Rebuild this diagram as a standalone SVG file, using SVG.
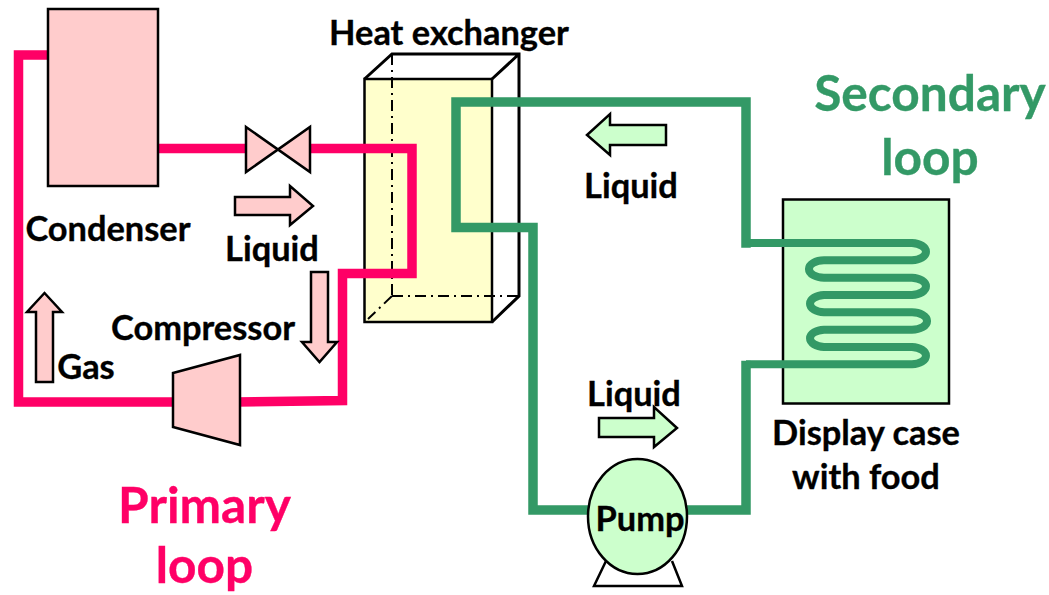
<svg xmlns="http://www.w3.org/2000/svg" width="1049" height="595" viewBox="0 0 1049 595">
<style>
text{font-family:"Lato","Liberation Sans",sans-serif;font-weight:700;fill:#000;stroke:#000;stroke-width:.35;font-size:34.400px;text-anchor:middle}
.big{font-size:49.600px}
.pk{fill:#ff0066;stroke:#ff0066}.gn{fill:#339966;stroke:#339966}
.shape{stroke:#000;stroke-width:2.500;stroke-linejoin:miter}
.p{fill:#ffcccc}.g{fill:#ccffcc}.y{fill:#ffffcc}
.pipe{fill:none;stroke-width:9.500;stroke-linejoin:miter;stroke-linecap:square}
.pp{stroke:#ff0066}.gp{stroke:#339966}
.edge{fill:none;stroke:#000;stroke-width:2.500}
.back{fill:none;stroke:#000;stroke-width:3}
.dash{fill:none;stroke:#000;stroke-width:2;stroke-dasharray:11 5 2 5}
</style>
<rect width="1049" height="595" fill="#fff"/>
<g id="heat-exchanger">
<rect class="shape y" x="364.500" y="79" width="127.500" height="243"/>
<path class="back" d="M364.500 79L392 54H519V296L492 322M492 79L519 54"/>
<path class="dash" d="M392 54V296M392 296H519M392 296L368 319"/>
<text x="449" y="44.500">Heat exchanger</text>
</g>
<g id="display-case">
<rect class="shape g" x="783" y="199.500" width="166" height="204"/>
<text x="866" y="445">Display case</text>
<text x="866" y="489">with food</text>
</g>
<g id="connectors">
<path class="pipe pp" d="M48 55H18.500V402H173"/>
<path class="pipe pp" d="M158 148.500H246M310 148.500H412V273.500H342.500V400.500L240 402"/>
<path class="pipe gp" d="M746 243V102H456V227.500H533V510H588M690 510H746V365.500"/>
<path d="M746 243H912A15 8.670 0 0 1 912 260.300H824A15 8.670 0 0 0 824 277.700H912A15 8.670 0 0 1 912 295H824A15 8.670 0 0 0 824 312.300H912A15 8.670 0 0 1 912 329.700H824A15 8.670 0 0 0 824 347H912A15 8.670 0 0 1 912 364.300H746" fill="none" stroke="#339966" stroke-width="8"/>
</g>
<g id="condenser">
<rect class="shape p" x="48" y="9" width="110" height="177"/>
<text x="108" y="241">Condenser</text>
</g>
<g id="valve">
<path class="shape p" d="M246 127L310 172V127L246 172Z"/>
</g>
<g id="compressor">
<path class="shape p" d="M173 373L240 355V445L173 427Z"/>
<text x="203" y="340">Compressor</text>
</g>
<g id="pump">
<path class="edge" d="M606 561L594 586H682L672 561"/>
<ellipse class="shape g" cx="637.500" cy="516.500" rx="49.500" ry="57.500"/>
<text x="640" y="531">Pump</text>
</g>
<g id="flow-liquid-primary-right">
<path class="shape p" d="M235 197H290V186L313 206L290 225V215H235Z"/>
<text x="272" y="261">Liquid</text>
</g>
<g id="flow-liquid-primary-down">
<path class="shape p" d="M311 272H328V342H337L319.500 362L302 342H311Z"/>
</g>
<g id="flow-gas">
<path class="shape p" d="M36 382H53V312H62L44.500 293L27 312H36Z"/>
<text x="86" y="379">Gas</text>
</g>
<g id="flow-liquid-secondary-left">
<path class="shape g" d="M666 125H610V114L587 135L610 155V145H666Z"/>
<text x="631" y="198">Liquid</text>
</g>
<g id="flow-liquid-secondary-right">
<path class="shape g" d="M599 418H654V407L677 428L654 447V437H599Z"/>
<text x="634" y="406">Liquid</text>
</g>
<g id="labels">
<text class="big gn" x="930" y="110.500">Secondary</text>
<text class="big gn" x="930" y="174.500">loop</text>
<text class="big pk" x="204.500" y="523">Primary</text>
<text class="big pk" x="204.500" y="583">loop</text>
</g>
</svg>
